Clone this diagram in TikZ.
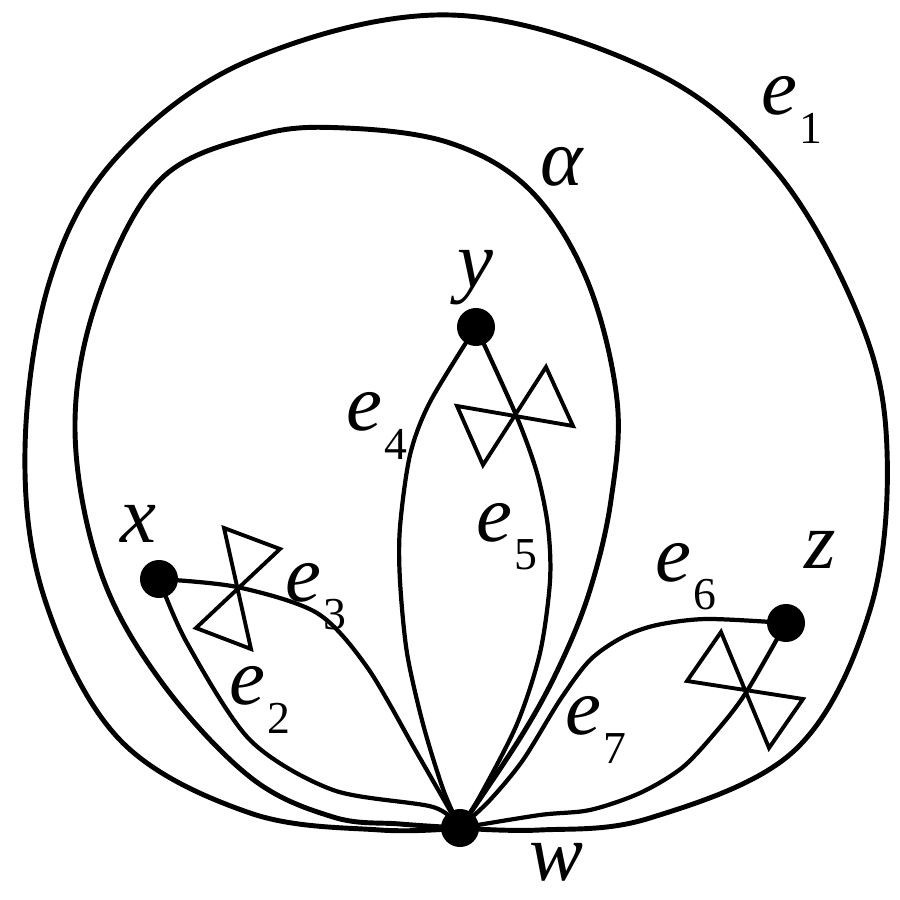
\documentclass[tikz,border=0pt]{standalone}
\usepackage{fontspec}
\setmainfont{Liberation Serif}
\usepackage{tikz}
\tikzstyle{vertex} = [circle, fill=black, inner sep=0pt, minimum size=0.38cm]
\tikzstyle{edge} = [line width=1.2pt, line join=round]
\tikzstyle{loopedge} = [line width=1.4pt]
\tikzstyle{twist} = [line width=1.1pt, line join=miter]
\tikzstyle{lbl} = [inner sep=0pt, font=\fontsize{23}{26}\selectfont]
\newcommand{\elab}[1]{\textit{e}\kern0.6pt\raisebox{-8pt}{\fontsize{13}{13}\selectfont #1}}

\begin{document}
\begin{tikzpicture}[x=0.01cm, y=0.01cm]
    \useasboundingbox (0,0) rectangle (900,900);
    % vertices
    \node[vertex] (w) at (460,72) {};
    \node[vertex] (x) at (159,321) {};
    \node[vertex] (y) at (476,573) {};
    \node[vertex] (z) at (786,277) {};

    % outer loop e1
    \draw[loopedge] plot[smooth, tension=0.6] coordinates {(w.center) (380,70) (250,87) (120,160) (45,300) (25,450) (50,620) (117,743) (250,840) (450,885) (650,830) (775,730) (860,580) (887,450) (870,290) (795,150) (650,82) (540,70) (w.center)};
    % inner loop alpha
    \draw[loopedge] plot[smooth, tension=0.6] coordinates {(w.center) (400,76) (333,83) (250,123) (160,220) (100,330) (75,470) (97,600) (160,720) (260,765) (345,772) (450,757) (530,710) (587,620) (617,500) (611,400) (590,310) (560,235) (522,165) (w.center)};

    % edges from x
    \draw[edge] plot[smooth] coordinates {(x.center) (187,257) (250,160) (333,110) (433,93) (w.center)};
    \draw[edge] plot[smooth] coordinates {(x.center) (237,313) (317,287) (367,233) (417,147) (w.center)};
    % edges from y
    \draw[edge] plot[smooth] coordinates {(y.center) (430,498) (410,445) (400,373) (400,319) (407,247) (423,176) (443,111) (w.center)};
    \draw[edge] plot[smooth] coordinates {(y.center) (516,485) (537,427) (548,373) (550,319) (540,247) (517,176) (480,104) (w.center)};
    % edges from z
    \draw[edge] plot[smooth] coordinates {(z.center) (707,281) (657,275) (623,263) (590,240) (560,200) (523,140) (490,100) (w.center)};
    \draw[edge] plot[smooth] coordinates {(z.center) (747,209) (720,173) (683,133) (640,107) (590,90) (540,85) (w.center)};

    % twists
    \draw[twist] (224,372) -- (251,251) -- (196,272) -- (280,351) -- cycle;
    \draw[twist] (546,533) -- (483,435) -- (457,494) -- (573,474) -- cycle;
    \draw[twist] (721,268) -- (769,152) -- (803,201) -- (687,219) -- cycle;

    % labels
    \node[lbl] (le1) at (792,790) {\elab{1}};
    \node[lbl] (lalpha) at (562,733) {\textit{α}};
    \node[lbl] (ly) at (475,622) {\textit{y}};
    \node[lbl] (lx) at (138,376) {\textit{x}};
    \node[lbl] (lz) at (820,350) {\textit{z}};
    \node[lbl] (lw) at (556,38) {\textit{w}};
    \node[lbl] (le2) at (260,200) {\elab{2}};
    \node[lbl] (le3) at (316,303) {\elab{3}};
    \node[lbl] (le4) at (377,474) {\elab{4}};
    \node[lbl] (le5) at (507,363) {\elab{5}};
    \node[lbl] (le6) at (686,323) {\elab{6}};
    \node[lbl] (le7) at (596,170) {\elab{7}};
\end{tikzpicture}
\end{document}
